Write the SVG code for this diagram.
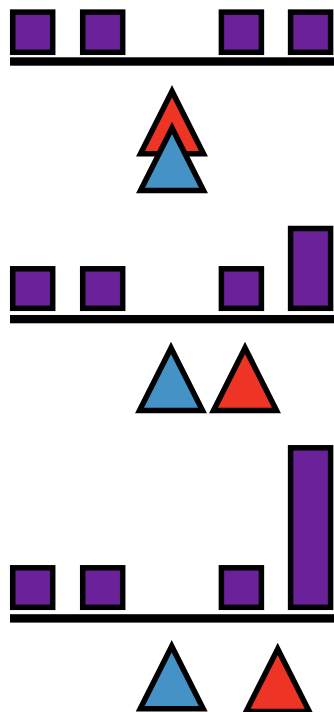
<svg xmlns="http://www.w3.org/2000/svg" width="334" height="712" viewBox="0 0 334 712">
<style>
.blk{fill:#6A2199;stroke:#000;stroke-width:5.5;stroke-linejoin:miter}
.bar{fill:#000}
.tri{stroke:#000;stroke-width:5.5;stroke-linejoin:miter;stroke-miterlimit:10}
.red{fill:#EE3424}
.blue{fill:#4492C6}
</style>
<defs>
<polygon id="t" points="0,0 -31.5,62.5 31.5,62.5"/>
</defs>
<g id="section1">
<rect id="s1-bar" class="bar" x="10" y="57.3" width="324" height="8.4"/>
<g id="s1-b1"><rect class="blk" x="12.7" y="12.1" width="40" height="40.2"/></g>
<g id="s1-b2"><rect class="blk" x="82.7" y="12.1" width="40" height="40.2"/></g>
<g id="s1-b3"><rect class="blk" x="221.4" y="12.1" width="40" height="40.2"/></g>
<g id="s1-b4"><rect class="blk" x="290.6" y="12.1" width="40" height="40.2"/></g>
<g id="s1-red"><use href="#t" class="tri red" x="172" y="91.2"/></g>
<g id="s1-blue"><use href="#t" class="tri blue" x="172" y="127.9"/></g>
</g>
<g id="section2">
<rect id="s2-bar" class="bar" x="10" y="315" width="324" height="8.3"/>
<g id="s2-b1"><rect class="blk" x="12.7" y="268.8" width="40" height="39.5"/></g>
<g id="s2-b2"><rect class="blk" x="82.7" y="268.8" width="40" height="39.5"/></g>
<g id="s2-b3"><rect class="blk" x="221.4" y="268.8" width="40" height="39.5"/></g>
<g id="s2-b4"><rect class="blk" x="290.6" y="228.5" width="40" height="79.8"/></g>
<g id="s2-blue"><use href="#t" class="tri blue" x="171" y="347.9"/></g>
<g id="s2-red"><use href="#t" class="tri red" x="245" y="347.9"/></g>
</g>
<g id="section3">
<rect id="s3-bar" class="bar" x="10" y="614.2" width="324" height="8.4"/>
<g id="s3-b1"><rect class="blk" x="12.7" y="567.8" width="40" height="39.5"/></g>
<g id="s3-b2"><rect class="blk" x="82.7" y="567.8" width="40" height="39.5"/></g>
<g id="s3-b3"><rect class="blk" x="221.4" y="567.8" width="40" height="39.5"/></g>
<g id="s3-b4"><rect class="blk" x="290.6" y="447.8" width="40" height="159.5"/></g>
<g id="s3-blue"><use href="#t" class="tri blue" x="171.7" y="646.2"/></g>
<g id="s3-red"><use href="#t" class="tri red" x="277.7" y="648.9"/></g>
</g>
<g id="connectors"/>
</svg>
